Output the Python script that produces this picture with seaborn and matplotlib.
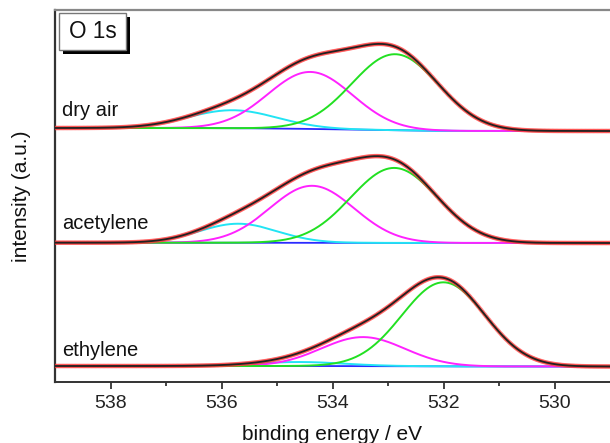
import numpy as np
import pandas as pd
import matplotlib
matplotlib.use("Agg")
import matplotlib.pyplot as plt
from matplotlib.patches import Rectangle
import seaborn as sns

# spectra, bottom to top in the stack
samples = ["ethylene", "acetylene", "dry air"]
# background level at high BE (left) and low BE (right), stacked units
bg_left = [16.0, 139.3, 254.0]
bg_right = [15.5, 139.0, 251.0]

# fitted components: centre (eV), height, sigma (eV)
cyan_pos = [534.6, 535.7, 535.8]
cyan_amp = [4.0, 19.0, 18.0]
cyan_sig = [0.80, 0.70, 0.80]

magenta_pos = [533.45, 534.37, 534.40]
magenta_amp = [29.0, 57.0, 57.0]
magenta_sig = [0.75, 0.76, 0.76]

green_pos = [532.00, 532.89, 532.87]
green_amp = [84.0, 75.0, 76.0]
green_sig = [0.75, 0.78, 0.78]

label_y = [32, 159, 272]
xticks = [538, 536, 534, 532, 530]

energy = np.linspace(539, 529, 420)


def gauss(x, c, a, s):
    return a * np.exp(-(x - c) ** 2 / (2 * s ** 2))


sns.set_theme(style="ticks")
plt.rcParams["font.family"] = ["Liberation Sans", "DejaVu Sans"]

fig = plt.figure(figsize=(6.10, 4.43), dpi=100)
ax = fig.add_axes([55 / 610, 1 - 382 / 443, 555 / 610, 372 / 443])

for i, name in enumerate(samples):
    cy = gauss(energy, cyan_pos[i], cyan_amp[i], cyan_sig[i])
    mg = gauss(energy, magenta_pos[i], magenta_amp[i], magenta_sig[i])
    gr = gauss(energy, green_pos[i], green_amp[i], green_sig[i])
    peaks = cy + mg + gr
    # Shirley-like step: cumulative peak area from the low-BE side
    cum = np.cumsum(peaks[::-1])[::-1]
    bg = bg_right[i] + (bg_left[i] - bg_right[i]) * cum / cum[0]
    df = pd.DataFrame({"energy": energy, "bg": bg, "cyan": bg + cy,
                       "magenta": bg + mg, "green": bg + gr,
                       "fit": bg + peaks})

    sns.lineplot(data=df, x="energy", y="bg", ax=ax, color="#2a2aff", lw=1.3)
    sns.lineplot(data=df, x="energy", y="cyan", ax=ax, color="#22e4f4", lw=1.4)
    sns.lineplot(data=df, x="energy", y="magenta", ax=ax, color="#ff22ff", lw=1.4)
    sns.lineplot(data=df, x="energy", y="green", ax=ax, color="#22e022", lw=1.4)
    sns.scatterplot(data=df, x="energy", y="fit", ax=ax, color="#ff3c3c",
                    s=11, edgecolor="none", alpha=0.55, zorder=3)
    sns.lineplot(data=df, x="energy", y="fit", ax=ax, color="#222222", lw=1.3,
                 zorder=4)

    ax.text(538.87, label_y[i], name, ha="left", va="center", fontsize=14.5,
            color="#111111")

ax.set_xlim(539, 529)
ax.set_ylim(0, 372)
ax.set_xticks(xticks)
ax.set_xticks([537, 535, 533, 531], minor=True)
ax.set_yticks([])
ax.tick_params(axis="x", which="major", length=5, width=1.2, labelsize=14,
               pad=4, colors="#222222")
ax.tick_params(axis="x", which="minor", length=3, width=1.2, colors="#222222")
ax.set_xlabel("binding energy / eV", fontsize=15, labelpad=9.5, color="#111111")
ax.set_ylabel("intensity (a.u.)", fontsize=15, labelpad=17, color="#111111")

ax.spines["right"].set_visible(False)
ax.spines["top"].set_color("#888888")
ax.spines["top"].set_linewidth(1.6)
ax.spines["left"].set_color("#333333")
ax.spines["left"].set_linewidth(1.6)
ax.spines["bottom"].set_color("#333333")
ax.spines["bottom"].set_linewidth(1.4)

# "O 1s" label box with shadow
ax.add_patch(Rectangle((0.0144, 0.8817), 0.120, 0.0987, transform=ax.transAxes,
                       facecolor="black", edgecolor="none", zorder=5))
ax.add_patch(Rectangle((0.0077, 0.8925), 0.120, 0.0987, transform=ax.transAxes,
                       facecolor="white", edgecolor="#777777", lw=1.0, zorder=6))
ax.text(0.0676, 0.941, "O 1s", transform=ax.transAxes, ha="center",
        va="center", fontsize=16.3, color="#111111", zorder=7)

fig.savefig("out.png", dpi=100)
